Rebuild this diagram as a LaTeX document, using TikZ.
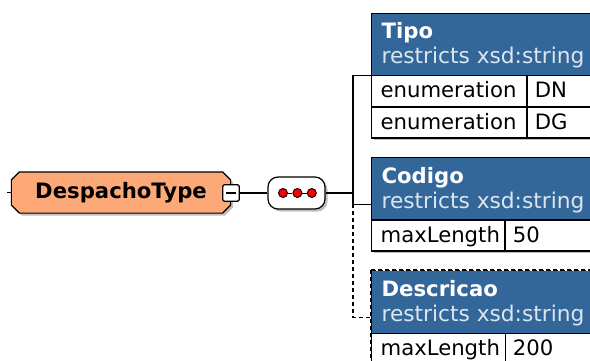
\documentclass[tikz,border=0pt]{standalone}
\usepackage{fontspec}
\setmainfont{DejaVu Sans}
\usetikzlibrary{positioning, shadows}

\definecolor{hdrblue}{HTML}{336699}
\definecolor{subtxt}{HTML}{DCE6F0}
\definecolor{typefill}{HTML}{FCA877}

\begin{document}
\begin{tikzpicture}[
    x=1bp, y=-1bp,
    line width=1.2bp,
    every node/.style={font=\fontsize{21.2bp}{25bp}\selectfont, inner sep=0pt},
    shade/.style={drop shadow={shadow xshift=2.5bp, shadow yshift=-2.5bp, fill=black, opacity=0.25}},
    box/.style={draw, fill=white, anchor=north west, minimum width=260bp},
    hdr/.style={draw, fill=hdrblue, anchor=north west, minimum width=260bp, minimum height=62bp},
    title/.style={anchor=base west, text=white, font=\fontsize{21.2bp}{25bp}\selectfont\bfseries},
    sub/.style={anchor=base west, text=subtxt, font=\fontsize{21.7bp}{25bp}\selectfont},
    cell/.style={draw, anchor=north west, minimum height=31bp, text height=15bp, text depth=2bp,
                 inner xsep=9bp, text width=#1, align=left},
    dotted line/.style={dash pattern=on 4bp off 3bp}
]
    \useasboundingbox (0,0) rectangle (590,360);
    \clip (0,0) rectangle (590,360);

    % the complex type and its sequence
    \node (type) [minimum width=218bp, minimum height=40bp] at (121,192.5) {};
    \draw [fill=typefill, shade] ([xshift=8bp]type.north west) -- ([xshift=-8bp]type.north east)
        -- ([yshift=-8bp]type.north east) -- ([yshift=8bp]type.south east)
        -- ([xshift=-8bp]type.south east) -- ([xshift=8bp]type.south west)
        -- ([yshift=8bp]type.south west) -- ([yshift=-8bp]type.north west) -- cycle;
    \node [font=\fontsize{21.2bp}{25bp}\selectfont\bfseries] at (type.center) {DespachoType};
    \node (collapse) [draw, fill=white, rounded corners=1.5bp, minimum size=16.5bp,
                      path picture={\draw ([xshift=3bp]path picture bounding box.west) -- ([xshift=-3bp]path picture bounding box.east);}]
                      at (231,193) {};
    \node (seq) [draw, fill=white, rounded corners=10bp, shade, minimum width=57bp, minimum height=32bp] at (296.5,193) {};
    \node (dot1) [circle, draw, fill=red, line width=0.9bp, minimum size=9bp] at (283,193) {};
    \node (dot2) [circle, draw, fill=red, line width=0.9bp, minimum size=9bp, right=4.5bp of dot1] {};
    \node (dot3) [circle, draw, fill=red, line width=0.9bp, minimum size=9bp, right=4.5bp of dot2] {};
    \draw [line width=0.9bp] (dot1) -- (dot2) -- (dot3);

    \coordinate (stub) at (7,192.5);
    \coordinate (fork) at (353,193);

    % Tipo
    \node (tipo) [box, shade, minimum height=124bp] at (371,13) {};
    \node (tipohdr) [hdr] at (tipo.north west) {};
    \node [title] at ([shift={(10,25)}]tipo.north west) {Tipo};
    \node [sub] at ([shift={(10,50)}]tipo.north west) {restricts xsd:string};
    \node (tipon1) [cell=137bp] at (371,75) {enumeration};
    \node (tipov1) [cell=110bp, inner xsep=7bp] at (tipon1.north east) {DN};
    \node (tipon2) [cell=137bp] at (tipon1.south west) {enumeration};
    \node (tipov2) [cell=110bp, inner xsep=7bp] at (tipon2.north east) {DG};

    % Codigo
    \node (codigo) [box, shade, minimum height=93bp] at (371,157) {};
    \node (codigohdr) [hdr] at (codigo.north west) {};
    \node [title] at ([shift={(10,26)}]codigo.north west) {Codigo};
    \node [sub] at ([shift={(10,51)}]codigo.north west) {restricts xsd:string};
    \node (codigon) [cell=115bp] at (codigohdr.south west) {maxLength};
    \node (codigov) [cell=110bp, inner xsep=7bp] at (codigon.north east) {50};

    % Descricao (optional)
    \node (desc) [box, dotted line, minimum height=93bp] at (371,270) {};
    \node (deschdr) [hdr, draw=none] at (desc.north west) {};
    \node [title] at ([shift={(10,26)}]desc.north west) {Descricao};
    \node [sub] at ([shift={(10,51)}]desc.north west) {restricts xsd:string};
    \node (descn) [cell=115bp, draw=none] at (deschdr.south west) {maxLength};
    \node (descv) [cell=110bp, draw=none, inner xsep=7bp] at (descn.north east) {200};
    \draw [dotted line] (desc.north west) rectangle (desc.south east);
    \draw (deschdr.south west) -- (deschdr.south east);
    \draw (descv.north west) -- (descv.south west);

    % connectors
    \draw (stub) -- (type.west);
    \draw (collapse) -- (seq);
    \draw (seq.east) -- (fork);
    \draw (tipo.west) -| (fork) |- (codigo.west);
    \draw [dotted line] (codigo.west -| fork) |- (desc.west);
\end{tikzpicture}
\end{document}
